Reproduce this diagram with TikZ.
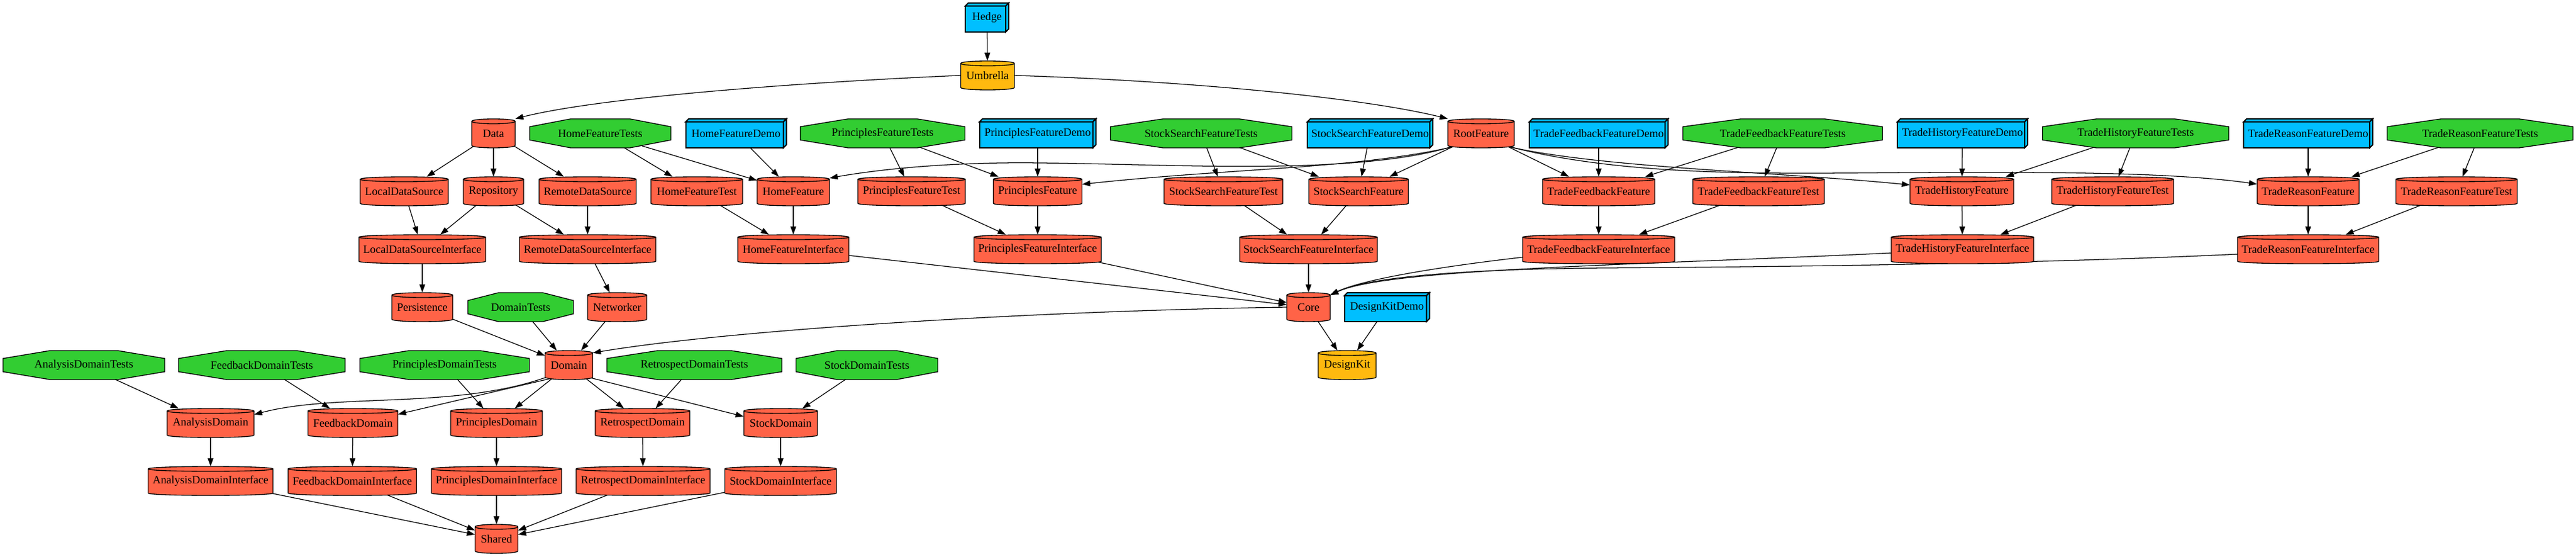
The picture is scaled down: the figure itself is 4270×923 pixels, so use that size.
\documentclass[tikz,border=0pt]{standalone}
\usepackage{fontspec}
\setmainfont{Liberation Serif}
\usetikzlibrary{arrows.meta,calc}
\definecolor{tom}{RGB}{255,99,71}
\definecolor{gld}{RGB}{255,185,15}
\definecolor{lgr}{RGB}{50,205,50}
\definecolor{dsb}{RGB}{0,191,255}
\pgfdeclarelayer{edgelayer}
\pgfsetlayers{edgelayer,main}
\tikzset{
  nb/.style={draw=black, line width=1pt, line join=miter},
  nbb/.style={draw=black, line width=1.5pt, line join=miter},
  lbl/.style={rectangle, inner sep=0pt, minimum height=36pt, font=\fontsize{14}{16}\selectfont},
  edge/.style={draw=black, line width=0.95pt, -{Triangle[length=10pt,width=7pt]}, shorten <=-9pt},
}
% cylinder: colour, name, x, y, width, text
\newcommand\cyl[6]{%
  \pgfmathsetmacro\cL{#3-#5/2}%
  \pgfmathsetmacro\cR{#3+#5/2}%
  \pgfmathsetmacro\cT{#4-24}%
  \pgfmathsetmacro\cB{#4+24}%
  \filldraw[nb, fill=#1] (\cL,\cT+4) -- (\cL,\cB-4) .. controls (\cL,\cB+1.33) and (\cR,\cB+1.33) .. (\cR,\cB-4) -- (\cR,\cT+4) .. controls (\cR,\cT-1.33) and (\cL,\cT-1.33) .. (\cL,\cT+4) -- cycle;
  \draw[nb] (\cL,\cT+4) .. controls (\cL,\cT+9.33) and (\cR,\cT+9.33) .. (\cR,\cT+4);
  \node[lbl, minimum width={#5*0.75pt}] (#2) at (#3,#4) {#6};
}
% box3d: name, x, y, width, text
\newcommand\boxd[5]{%
  \pgfmathsetmacro\cL{#2-#4/2}%
  \pgfmathsetmacro\cR{#2+#4/2}%
  \pgfmathsetmacro\cT{#3-24}%
  \pgfmathsetmacro\cB{#3+24}%
  \filldraw[nbb, fill=dsb] (\cL,\cT+5) rectangle (\cR-5,\cB);
  \filldraw[nbb, fill=dsb] (\cL,\cT+5) -- (\cL+5,\cT) -- (\cR,\cT) -- (\cR-5,\cT+5) -- cycle;
  \filldraw[nbb, fill=dsb] (\cR-5,\cT+5) -- (\cR,\cT) -- (\cR,\cB-5) -- (\cR-5,\cB) -- cycle;
  \node[lbl, minimum width={#4*0.75pt}] (#1) at (#2,#3) {#5};
}
% octagon: name, x, y, width, text
\newcommand\oct[5]{%
  \pgfmathsetmacro\cL{#2-#4/2}%
  \pgfmathsetmacro\cR{#2+#4/2}%
  \pgfmathsetmacro\cT{#3-24}%
  \pgfmathsetmacro\cB{#3+24}%
  \pgfmathsetmacro\cA{0.29*#4}%
  \filldraw[nb, fill=lgr] (\cL+\cA,\cT) -- (\cR-\cA,\cT) -- (\cR,\cT+13) -- (\cR,\cB-13) -- (\cR-\cA,\cB) -- (\cL+\cA,\cB) -- (\cL,\cB-13) -- (\cL,\cT+13) -- cycle;
  \node[lbl, minimum width={#4*0.75pt}] (#1) at (#2,#3) {#5};
}
\begin{document}
\begin{tikzpicture}[x=0.75pt,y=-0.75pt]
\useasboundingbox (0,0) rectangle (4270,923);
% row 0,1
\boxd{hedge}{1636}{29}{72}{Hedge}
\cyl{gld}{umb}{1637}{125}{89}{Umbrella}
% row 2
\cyl{tom}{data}{818}{221}{72}{Data}
\oct{hft}{995}{221}{234}{HomeFeatureTests}
\boxd{hfd}{1220}{221}{167}{HomeFeatureDemo}
\oct{pft}{1463}{221}{273}{PrinciplesFeatureTests}
\boxd{pfd}{1720}{221}{193}{PrinciplesFeatureDemo}
\oct{sft}{1991}{221}{301}{StockSearchFeatureTests}
\boxd{sfd}{2271}{221}{208}{StockSearchFeatureDemo}
\cyl{tom}{root}{2455}{221}{110}{RootFeature}
\boxd{tffd}{2650}{221}{230}{TradeFeedbackFeatureDemo}
\oct{tfft}{2955}{221}{331}{TradeFeedbackFeatureTests}
\boxd{thfd}{3253}{221}{216}{TradeHistoryFeatureDemo}
\oct{thft}{3540}{221}{309}{TradeHistoryFeatureTests}
\boxd{trfd}{3826}{221}{214}{TradeReasonFeatureDemo}
\oct{trft}{4111}{221}{308}{TradeReasonFeatureTests}
% row 3
\cyl{tom}{lds}{670}{317}{146}{LocalDataSource}
\cyl{tom}{repo}{818}{317}{100}{Repository}
\cyl{tom}{rds}{974}{317}{161}{RemoteDataSource}
\cyl{tom}{hftest}{1155}{317}{152}{HomeFeatureTest}
\cyl{tom}{hf}{1315}{317}{120}{HomeFeature}
\cyl{tom}{pftest}{1511}{317}{178}{PrinciplesFeatureTest}
\cyl{tom}{pf}{1720}{317}{147}{PrinciplesFeature}
\cyl{tom}{sftest}{2028}{317}{197}{StockSearchFeatureTest}
\cyl{tom}{sf}{2252}{317}{165}{StockSearchFeature}
\cyl{tom}{tff}{2650}{317}{186}{TradeFeedbackFeature}
\cyl{tom}{tfftest}{2915}{317}{218}{TradeFeedbackFeatureTest}
\cyl{tom}{thf}{3252}{317}{172}{TradeHistoryFeature}
\cyl{tom}{thftest}{3502}{317}{202}{TradeHistoryFeatureTest}
\cyl{tom}{trf}{3826}{317}{169}{TradeReasonFeature}
\cyl{tom}{trftest}{4072}{317}{201}{TradeReasonFeatureTest}
% row 4
\cyl{tom}{ldsi}{700}{413}{210}{LocalDataSourceInterface}
\cyl{tom}{rdsi}{974}{413}{226}{RemoteDataSourceInterface}
\cyl{tom}{hfi}{1315}{413}{184}{HomeFeatureInterface}
\cyl{tom}{pfi}{1720}{413}{211}{PrinciplesFeatureInterface}
\cyl{tom}{sfi}{2169}{413}{228}{StockSearchFeatureInterface}
\cyl{tom}{tffi}{2650}{413}{252}{TradeFeedbackFeatureInterface}
\cyl{tom}{thfi}{3253}{413}{236}{TradeHistoryFeatureInterface}
\cyl{tom}{trfi}{3826}{413}{234}{TradeReasonFeatureInterface}
% row 5
\cyl{tom}{pers}{700}{509}{101}{Persistence}
\oct{dt}{863}{509}{175}{DomainTests}
\cyl{tom}{net}{1023}{509}{98}{Networker}
\cyl{tom}{core}{2169}{509}{72}{Core}
\boxd{dkd}{2299}{509}{141}{DesignKitDemo}
% row 6
\oct{adt}{139}{605}{268}{AnalysisDomainTests}
\oct{fdt}{434}{605}{276}{FeedbackDomainTests}
\oct{pdt}{737}{605}{281}{PrinciplesDomainTests}
\cyl{tom}{domain}{943}{605}{79}{Domain}
\oct{rdt}{1151}{605}{290}{RetrospectDomainTests}
\oct{sdt}{1437}{605}{235}{StockDomainTests}
\cyl{gld}{dk}{2233}{605}{96}{DesignKit}
% row 7
\cyl{tom}{ad}{349}{701}{144}{AnalysisDomain}
\cyl{tom}{fd}{585}{701}{149}{FeedbackDomain}
\cyl{tom}{pd}{823}{701}{152}{PrinciplesDomain}
\cyl{tom}{rd}{1065}{701}{157}{RetrospectDomain}
\cyl{tom}{sd}{1294}{701}{122}{StockDomain}
% row 8
\cyl{tom}{adi}{349}{797}{207}{AnalysisDomainInterface}
\cyl{tom}{fdi}{584}{797}{213}{FeedbackDomainInterface}
\cyl{tom}{pdi}{823}{797}{216}{PrinciplesDomainInterface}
\cyl{tom}{rdi}{1066}{797}{222}{RetrospectDomainInterface}
\cyl{tom}{sdi}{1294}{797}{185}{StockDomainInterface}
% row 9
\cyl{tom}{shared}{823}{893}{71}{Shared}

\begin{pgfonlayer}{edgelayer}
\draw[edge] (hedge) -- (umb);
\draw[edge] (umb.west) .. controls (1350,135) and (1000,160) .. (data.north east);
\draw[edge] (umb.east) .. controls (1950,133) and (2250,160) .. (root.north west);
% data layer
\draw[edge] (data) -- (lds);
\draw[edge] (data) -- (repo);
\draw[edge] (data) -- (rds);
\draw[edge] (lds) -- (ldsi);
\draw[edge] (repo) -- (ldsi);
\draw[edge] (repo) -- (rdsi);
\draw[edge] (rds) -- (rdsi);
\draw[edge] (ldsi) -- (pers);
\draw[edge] (rdsi) -- (net);
\draw[edge] (pers) -- (domain);
\draw[edge] (dt) -- (domain);
\draw[edge] (net) -- (domain);
\draw[edge] (core.west) .. controls (1700,515) and (1200,548) .. (domain.27);
% domain layer
\draw[edge] (domain.208) .. controls (760,680) and (560,650) .. (ad.11);
\draw[edge] (domain.212) -- (fd.11);
\draw[edge] (domain) -- (pd);
\draw[edge] (domain) -- (rd);
\draw[edge] (domain.-29) -- (sd.170);
\draw[edge] (adt) -- (ad);
\draw[edge] (fdt) -- (fd);
\draw[edge] (pdt) -- (pd);
\draw[edge] (rdt) -- (rd);
\draw[edge] (sdt) -- (sd);
\draw[edge] (ad) -- (adi);
\draw[edge] (fd) -- (fdi);
\draw[edge] (pd) -- (pdi);
\draw[edge] (rd) -- (rdi);
\draw[edge] (sd) -- (sdi);
\draw[edge] (adi) -- (shared);
\draw[edge] (fdi) -- (shared);
\draw[edge] (pdi) -- (shared);
\draw[edge] (rdi) -- (shared);
\draw[edge] (sdi) -- (shared);
% home
\draw[edge] (hft) -- (hftest);
\draw[edge] (hft) -- (hf);
\draw[edge] (hfd) -- (hf);
\draw[edge] (root.south west) .. controls (2250,292) and (1950,272) .. (1723,270) .. controls (1580,268) and (1460,280) .. (hf.20);
\draw[edge] (hftest) -- (hfi);
\draw[edge] (hf) -- (hfi);
\draw[edge] (hfi) -- (core);
% principles
\draw[edge] (pft) -- (pftest);
\draw[edge] (pft) -- (pf);
\draw[edge] (pfd) -- (pf);
\draw[edge] (root.south west) .. controls (2250,280) and (2050,278) .. (pf.9);
\draw[edge] (pftest) -- (pfi);
\draw[edge] (pf) -- (pfi);
\draw[edge] (pfi) -- (core);
% stock search
\draw[edge] (sft) -- (sftest);
\draw[edge] (sft) -- (sf);
\draw[edge] (sfd) -- (sf);
\draw[edge] (root) -- (sf);
\draw[edge] (sftest) -- (sfi);
\draw[edge] (sf) -- (sfi);
\draw[edge] (sfi) -- (core);
% trade feedback
\draw[edge] (root) -- (tff);
\draw[edge] (tffd) -- (tff);
\draw[edge] (tfft) -- (tff);
\draw[edge] (tfft) -- (tfftest);
\draw[edge] (tff) -- (tffi);
\draw[edge] (tfftest) -- (tffi);
\draw[edge] (tffi.186) .. controls (2400,440) and (2260,462) .. (core.29);
% trade history
\draw[edge] (root.south east) .. controls (2650,278) and (2950,285) .. (thf.173);
\draw[edge] (thfd) -- (thf);
\draw[edge] (thft) -- (thf);
\draw[edge] (thft) -- (thftest);
\draw[edge] (thf) -- (thfi);
\draw[edge] (thftest) -- (thfi);
\draw[edge] (thfi.183) .. controls (2700,440) and (2300,445) .. (core.29);
% trade reason
\draw[edge] (root.south east) .. controls (2700,295) and (2950,287) .. (3170,286) .. controls (3390,285) and (3600,285) .. (trf.172);
\draw[edge] (trfd) -- (trf);
\draw[edge] (trft) -- (trf);
\draw[edge] (trft) -- (trftest);
\draw[edge] (trf) -- (trfi);
\draw[edge] (trftest) -- (trfi);
\draw[edge] (trfi.184) .. controls (3400,436) and (3000,442) .. (2661,444) .. controls (2400,446) and (2260,462) .. (core.29);
% design kit
\draw[edge] (core) -- (dk);
\draw[edge] (dkd) -- (dk);
\end{pgfonlayer}
\end{tikzpicture}
\end{document}
